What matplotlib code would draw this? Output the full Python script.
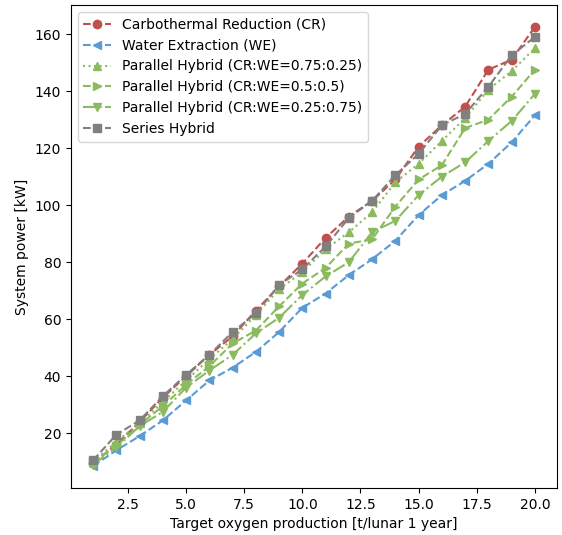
import matplotlib
matplotlib.use("Agg")
import matplotlib.pyplot as plt

x = list(range(1, 21))
cr = [9.5, 16, 24, 32.5, 40, 47.5, 54, 63, 71.5, 79.5, 88.5, 96, 101.5, 109, 120.5, 128, 134.5, 147.5, 151, 162.5]
we = [8.5, 14, 19, 24.5, 31.5, 38.5, 43, 48.5, 55.5, 64, 69, 75.5, 81, 87.5, 96.5, 103.5, 108.5, 114.5, 122, 131.5]
p75 = [10, 17, 23.5, 31, 38.5, 46, 53, 61.5, 70.5, 76.5, 84.5, 90.5, 97.5, 108, 114.5, 122.5, 130.5, 140.5, 147, 155]
p50 = [10, 15.5, 23, 29.5, 37, 43.5, 51.5, 56, 64.5, 72.5, 78, 86.5, 88, 99.5, 109, 114, 127, 130, 138, 147.5]
p25 = [9, 15, 22.5, 27.5, 36, 42, 47.5, 55, 60.5, 68.5, 75, 80, 90.5, 94.5, 103.5, 110, 115, 122.5, 129.5, 139]
series = [10.5, 19.5, 24.5, 33, 40.5, 47.5, 55.5, 62, 72, 77.5, 85.5, 95.5, 101.5, 110.5, 118, 128, 132, 141.5, 152.5, 159]

red = '#c0504d'
blue = '#5b9bd5'
green = '#8bbb5e'
grey = '#808080'

fig = plt.figure(figsize=(5.62, 5.35), dpi=100)
ax = fig.add_axes([0.1263, 0.0879, 0.991 - 0.1263, 0.9907 - 0.0879])

ax.plot(x, cr, '--', marker='o', color=red, label='Carbothermal Reduction (CR)')
ax.plot(x, we, '--', marker='<', color=blue, label='Water Extraction (WE)')
ax.plot(x, p75, ':', marker='^', color=green, label='Parallel Hybrid (CR:WE=0.75:0.25)')
ax.plot(x, p50, '--', marker='>', color=green, label='Parallel Hybrid (CR:WE=0.5:0.5)')
ax.plot(x, p25, '-.', marker='v', color=green, label='Parallel Hybrid (CR:WE=0.25:0.75)')
ax.plot(x, series, '--', marker='s', color=grey, label='Series Hybrid')

ax.set_xlabel('Target oxygen production [t/lunar 1 year]')
ax.set_ylabel('System power [kW]')
ax.legend(loc='upper left')

fig.savefig('out.png', dpi=100)
